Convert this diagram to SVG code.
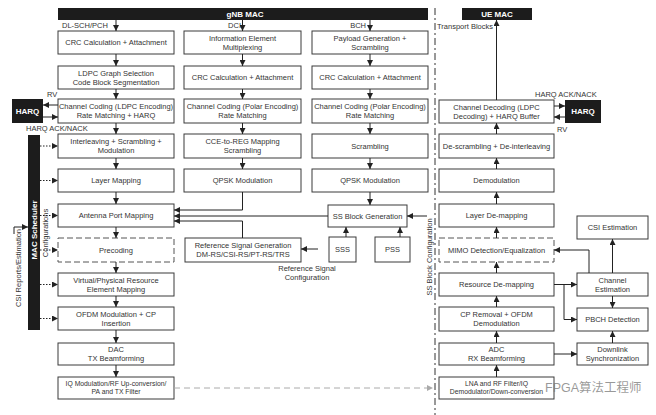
<svg xmlns="http://www.w3.org/2000/svg" width="656" height="415" viewBox="0 0 656 415">
<style>
.b{fill:#fff;stroke:#3a3a3a;stroke-width:1}
.bd{fill:#fff;stroke:#555;stroke-width:1;stroke-dasharray:6,3}
.k{fill:#1c1c1c}
.t{font-family:"Liberation Sans",Arial,sans-serif;font-size:7.5px;fill:#333;text-anchor:middle}
.s{font-family:"Liberation Sans",Arial,sans-serif;font-size:6.8px;fill:#333;text-anchor:middle}
.l{font-family:"Liberation Sans",Arial,sans-serif;font-size:7.5px;fill:#333}
.w{font-family:"Liberation Sans",Arial,sans-serif;font-size:8px;font-weight:bold;fill:#fff;text-anchor:middle}
.c{fill:none;stroke:#222;stroke-width:1}
.dot{fill:none;stroke:#222;stroke-width:1;stroke-dasharray:1.5,1.5}
.gd{fill:none;stroke:#aaa;stroke-width:1;stroke-dasharray:6,4}
</style>
<defs>
<marker id="a" markerWidth="6" markerHeight="6" refX="6" refY="3" orient="auto" markerUnits="userSpaceOnUse"><path d="M0,0 L6,3 L0,6 z" fill="#222"/></marker>
<marker id="ag" markerWidth="6" markerHeight="6" refX="6" refY="3" orient="auto" markerUnits="userSpaceOnUse"><path d="M0,0 L6,3 L0,6 z" fill="#aaa"/></marker>
</defs>

<!-- black bars -->
<g id="gnb-mac"><rect class="k" x="58" y="8" width="370" height="12"/><text class="w" x="245" y="17">gNB MAC</text></g>
<g id="ue-mac"><rect class="k" x="462" y="8" width="70" height="12"/><text class="w" x="497" y="17">UE MAC</text></g>
<g id="harq-l"><rect class="k" x="12" y="99" width="31" height="24"/><text class="w" x="27.5" y="114">HARQ</text></g>
<g id="harq-r"><rect class="k" x="565" y="100" width="36" height="23"/><text class="w" x="583" y="114">HARQ</text></g>
<g id="mac-sched"><rect class="k" x="28" y="135" width="12" height="195"/><text class="w" transform="translate(37,230) rotate(-90)" x="0" y="0">MAC Scheduler</text></g>

<!-- divider -->
<path d="M435,8 V415" fill="none" stroke="#333" stroke-width="1" stroke-dasharray="7,3,2,3"/>

<!-- left column -->
<g id="l1"><rect class="b" x="58" y="31" width="116" height="23"/><text class="t" x="116" y="45.2">CRC Calculation + Attachment</text></g>
<g id="l2"><rect class="b" x="58" y="66" width="116" height="23"/><text class="t" x="116" y="75.7">LDPC Graph Selection</text><text class="t" x="116" y="84.7">Code Block Segmentation</text></g>
<g id="l3"><rect class="b" x="58" y="99" width="116" height="24"/><text class="t" x="116" y="109.2">Channel Coding (LDPC Encoding)</text><text class="t" x="116" y="118.2">Rate Matching + HARQ</text></g>
<g id="l4"><rect class="b" x="58" y="134" width="116" height="24"/><text class="t" x="116" y="144.2">Interleaving + Scrambling +</text><text class="t" x="116" y="153.2">Modulation</text></g>
<g id="l5"><rect class="b" x="58" y="169" width="116" height="23"/><text class="t" x="116" y="183.2">Layer Mapping</text></g>
<g id="l6"><rect class="b" x="58" y="204" width="116" height="23"/><text class="t" x="116" y="218.2">Antenna Port Mapping</text></g>
<g id="l7"><rect class="bd" x="58" y="238" width="116" height="24"/><text class="t" x="116" y="252.7">Precoding</text></g>
<g id="l8"><rect class="b" x="58" y="273" width="116" height="23"/><text class="t" x="116" y="282.7">Virtual/Physical Resource</text><text class="t" x="116" y="291.7">Element Mapping</text></g>
<g id="l9"><rect class="b" x="58" y="307" width="116" height="23"/><text class="t" x="116" y="316.7">OFDM Modulation + CP</text><text class="t" x="116" y="325.7">Insertion</text></g>
<g id="l10"><rect class="b" x="58" y="343" width="116" height="22"/><text class="t" x="116" y="352.2">DAC</text><text class="t" x="116" y="361.2">TX Beamforming</text></g>
<g id="l11"><rect class="b" x="58" y="377" width="116" height="22"/><text class="s" x="116" y="386.4">IQ Modulation/RF Up-conversion/</text><text class="s" x="116" y="394.4">PA and TX Filter</text></g>

<!-- DCI column -->
<g id="m1"><rect class="b" x="184" y="31" width="117" height="23"/><text class="t" x="242.5" y="40.7">Information Element</text><text class="t" x="242.5" y="49.7">Multiplexing</text></g>
<g id="m2"><rect class="b" x="184" y="66" width="117" height="23"/><text class="t" x="242.5" y="80.2">CRC Calculation + Attachment</text></g>
<g id="m3"><rect class="b" x="184" y="99" width="117" height="24"/><text class="t" x="242.5" y="109.2">Channel Coding (Polar Encoding)</text><text class="t" x="242.5" y="118.2">Rate Matching</text></g>
<g id="m4"><rect class="b" x="184" y="134" width="117" height="24"/><text class="t" x="242.5" y="144.2">CCE-to-REG Mapping</text><text class="t" x="242.5" y="153.2">Scrambling</text></g>
<g id="m5"><rect class="b" x="184" y="169" width="117" height="23"/><text class="t" x="242.5" y="183.2">QPSK Modulation</text></g>
<g id="refsig"><rect class="b" x="185" y="238" width="116" height="24"/><text class="t" x="243" y="248.2">Reference Signal Generation</text><text class="t" x="243" y="257.2">DM-RS/CSI-RS/PT-RS/TRS</text></g>

<!-- BCH column -->
<g id="b1"><rect class="b" x="312" y="31" width="116" height="23"/><text class="t" x="370" y="40.7">Payload Generation +</text><text class="t" x="370" y="49.7">Scrambling</text></g>
<g id="b2"><rect class="b" x="312" y="66" width="116" height="23"/><text class="t" x="370" y="80.2">CRC Calculation + Attachment</text></g>
<g id="b3"><rect class="b" x="312" y="99" width="116" height="24"/><text class="t" x="370" y="109.2">Channel Coding (Polar Encoding)</text><text class="t" x="370" y="118.2">Rate Matching</text></g>
<g id="b4"><rect class="b" x="312" y="134" width="116" height="24"/><text class="t" x="370" y="148.7">Scrambling</text></g>
<g id="b5"><rect class="b" x="312" y="169" width="116" height="23"/><text class="t" x="370" y="183.2">QPSK Modulation</text></g>
<g id="ssb"><rect class="b" x="328" y="205" width="79" height="22"/><text class="t" x="367.5" y="218.7">SS Block Generation</text></g>
<g id="sss"><rect class="b" x="329" y="237" width="27" height="25"/><text class="t" x="342.5" y="252.2">SSS</text></g>
<g id="pss"><rect class="b" x="375" y="237" width="35" height="25"/><text class="t" x="392.5" y="252.2">PSS</text></g>

<!-- UE column -->
<g id="u1"><rect class="b" x="439" y="100" width="115" height="23"/><text class="t" x="496.5" y="109.7">Channel Decoding (LDPC</text><text class="t" x="496.5" y="118.7">Decoding) + HARQ Buffer</text></g>
<g id="u2"><rect class="b" x="439" y="134" width="115" height="24"/><text class="t" x="496.5" y="148.7">De-scrambling + De-interleaving</text></g>
<g id="u3"><rect class="b" x="439" y="169" width="115" height="23"/><text class="t" x="496.5" y="183.2">Demodulation</text></g>
<g id="u4"><rect class="b" x="439" y="204" width="115" height="23"/><text class="t" x="496.5" y="218.2">Layer De-mapping</text></g>
<g id="u5"><rect class="bd" x="439" y="238" width="115" height="24"/><text class="t" x="496.5" y="252.7">MIMO Detection/Equalization</text></g>
<g id="u6"><rect class="b" x="439" y="273" width="115" height="23"/><text class="t" x="496.5" y="287.2">Resource De-mapping</text></g>
<g id="u7"><rect class="b" x="439" y="307" width="115" height="24"/><text class="t" x="496.5" y="317.2">CP Removal + OFDM</text><text class="t" x="496.5" y="326.2">Demodulation</text></g>
<g id="u8"><rect class="b" x="439" y="343" width="115" height="22"/><text class="t" x="496.5" y="352.2">ADC</text><text class="t" x="496.5" y="361.2">RX Beamforming</text></g>
<g id="u9"><rect class="b" x="439" y="377" width="115" height="22"/><text class="s" x="496.5" y="386.4">LNA and RF Filter/IQ</text><text class="s" x="496.5" y="394.4">Demodulator/Down-conversion</text></g>

<!-- right column -->
<g id="csi"><rect class="b" x="577" y="216" width="71" height="23"/><text class="t" x="612.5" y="230.2">CSI Estimation</text></g>
<g id="chest"><rect class="b" x="577" y="273" width="71" height="23"/><text class="t" x="612.5" y="282.7">Channel</text><text class="t" x="612.5" y="291.7">Estimation</text></g>
<g id="pbch"><rect class="b" x="577" y="308" width="71" height="23"/><text class="t" x="612.5" y="322.2">PBCH Detection</text></g>
<g id="dlsync"><rect class="b" x="577" y="343" width="71" height="22"/><text class="t" x="612.5" y="352.2">Downlink</text><text class="t" x="612.5" y="361.2">Synchronization</text></g>

<!-- labels -->
<g id="labels">
<text class="l" x="62" y="28">DL-SCH/PCH</text>
<text class="l" x="241" y="28" text-anchor="end">DCI</text>
<text class="l" x="366" y="28" text-anchor="end">BCH</text>
<text class="l" x="437" y="29">Transport Blocks</text>
<text class="l" x="47" y="97">RV</text>
<text class="l" x="26" y="131">HARQ ACK/NACK</text>
<text class="l" x="535" y="97">HARQ ACK/NACK</text>
<text class="l" x="557" y="132">RV</text>
<text class="t" x="307" y="271">Reference Signal</text>
<text class="t" x="307" y="280">Configuration</text>
<text class="t" transform="translate(47.7,233) rotate(-90)">Configurations</text>
<text class="t" transform="translate(20.5,268) rotate(-90)">CSI Reports/Estimation</text>
<text class="t" transform="translate(431.5,257) rotate(-90)">SS Block Configuration</text>
</g>

<!-- connectors -->
<g id="connectors">
<path class="c" marker-end="url(#a)" d="M116,20 V31"/>
<path class="c" marker-end="url(#a)" d="M116,54 V66"/>
<path class="c" marker-end="url(#a)" d="M116,89 V99"/>
<path class="c" marker-end="url(#a)" d="M116,123 V134"/>
<path class="c" marker-end="url(#a)" d="M116,158 V169"/>
<path class="c" marker-end="url(#a)" d="M116,192 V204"/>
<path class="c" marker-end="url(#a)" d="M116,227 V238"/>
<path class="c" marker-end="url(#a)" d="M116,262 V273"/>
<path class="c" marker-end="url(#a)" d="M116,296 V307"/>
<path class="c" marker-end="url(#a)" d="M116,330 V343"/>
<path class="c" marker-end="url(#a)" d="M116,365 V377"/>
<path class="c" marker-end="url(#a)" d="M242.5,20 V31"/>
<path class="c" marker-end="url(#a)" d="M242.5,54 V66"/>
<path class="c" marker-end="url(#a)" d="M242.5,89 V99"/>
<path class="c" marker-end="url(#a)" d="M242.5,123 V134"/>
<path class="c" marker-end="url(#a)" d="M242.5,158 V169"/>
<path class="c" marker-end="url(#a)" d="M370,20 V31"/>
<path class="c" marker-end="url(#a)" d="M370,54 V66"/>
<path class="c" marker-end="url(#a)" d="M370,89 V99"/>
<path class="c" marker-end="url(#a)" d="M370,123 V134"/>
<path class="c" marker-end="url(#a)" d="M370,158 V169"/>
<path class="c" marker-end="url(#a)" d="M370,192 V205"/>
<path class="c" marker-end="url(#a)" d="M242.5,192 V210 H174"/>
<path class="c" marker-end="url(#a)" d="M328,216 H174"/>
<path class="c" marker-end="url(#a)" d="M242.5,238 V221 H174"/>
<path class="c" marker-end="url(#a)" d="M318,249 H301"/>
<path class="c" marker-end="url(#a)" d="M346,237 V227"/>
<path class="c" marker-end="url(#a)" d="M400,237 V227"/>
<path class="c" marker-end="url(#a)" d="M427,216 H407"/>
<path class="c" marker-end="url(#a)" d="M58,105 H43"/>
<path class="c" marker-end="url(#a)" d="M43,117 H58"/>
<path class="c" marker-end="url(#a)" d="M554,106 H565"/>
<path class="c" marker-end="url(#a)" d="M565,117 H554"/>
<path class="dot" marker-end="url(#a)" d="M40,146 H58"/>
<path class="dot" marker-end="url(#a)" d="M40,180.5 H58"/>
<path class="dot" marker-end="url(#a)" d="M40,215.5 H58"/>
<path class="dot" marker-end="url(#a)" d="M40,250 H58"/>
<path class="dot" marker-end="url(#a)" d="M40,284.5 H58"/>
<path class="dot" marker-end="url(#a)" d="M40,318.5 H58"/>
<path class="c" marker-end="url(#a)" d="M14,234 V227 H28"/>
<path class="c" marker-end="url(#a)" d="M496.5,377 V365"/>
<path class="c" marker-end="url(#a)" d="M496.5,343 V331"/>
<path class="c" marker-end="url(#a)" d="M496.5,307 V296"/>
<path class="c" marker-end="url(#a)" d="M496.5,273 V262"/>
<path class="c" marker-end="url(#a)" d="M496.5,238 V227"/>
<path class="c" marker-end="url(#a)" d="M496.5,204 V192"/>
<path class="c" marker-end="url(#a)" d="M496.5,169 V158"/>
<path class="c" marker-end="url(#a)" d="M496.5,134 V123"/>
<path class="c" marker-end="url(#a)" d="M496.5,100 V20"/>
<path class="c" marker-end="url(#a)" d="M554,284.5 H577"/>
<path class="c" marker-end="url(#a)" d="M564,284.5 V319.5 H577"/>
<path class="c" marker-end="url(#a)" d="M554,354 H577"/>
<path class="c" marker-end="url(#a)" d="M612.5,343 V331"/>
<path class="c" marker-end="url(#a)" d="M612.5,296 V308"/>
<path class="c" marker-end="url(#a)" d="M589,273 V250 H554"/>
<path class="c" marker-end="url(#a)" d="M612.5,273 V239"/>
<path class="gd" marker-end="url(#ag)" d="M174,388 H433"/>
</g>

<text x="545" y="392" font-family="'Liberation Sans','Noto Sans CJK SC',sans-serif" font-size="12.5" fill="#777" fill-opacity="0.75">FPGA算法工程师</text>
</svg>
